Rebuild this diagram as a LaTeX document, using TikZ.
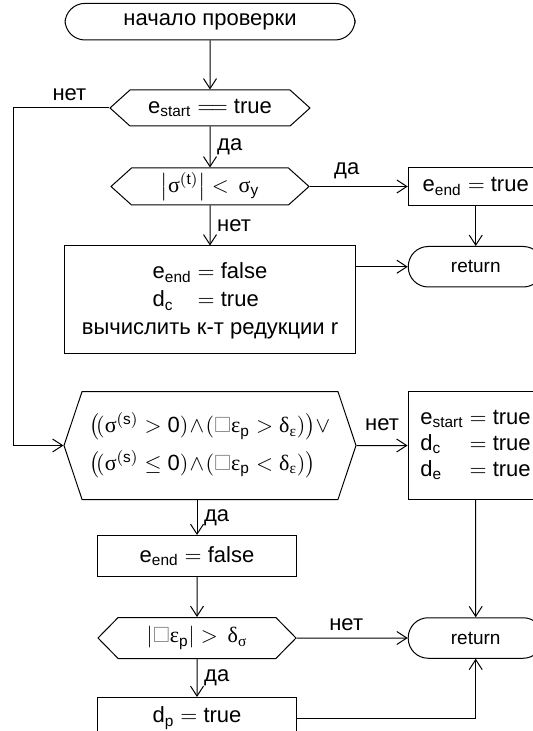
\documentclass[tikz,border=0pt]{standalone}
\usepackage{amsmath}
\usepackage{amssymb}
\usepackage{fontspec}
\setmainfont{Liberation Sans}
\newfontfamily\grk{Liberation Serif}
\usepackage{tikz}
\usetikzlibrary{positioning,shapes.symbols,arrows.meta}

\newcommand{\gr}[1]{\text{\grk #1}}
\newcommand{\bx}{{\color{gray}\square}}

\begin{document}
\begin{tikzpicture}[>={Straight Barb[length=5pt,width=6.5pt]},line width=0.5pt,
    font=\fontsize{11}{13}\selectfont,
    term/.style={rectangle,rounded corners=10pt,draw,inner sep=0pt,minimum width=145pt,minimum height=18.3pt},
    cond/.style={signal,signal to=west and east,draw,inner sep=0pt},
    proc/.style={rectangle,draw,inner sep=0pt},
    ret/.style={term,minimum width=67.5pt,minimum height=20.25pt,font=\fontsize{9.5}{11}\selectfont}]
        \clip (0,0) rectangle (266.5pt,-365.5pt);

        \node[term] (start) at (105pt,-10.85pt) {начало проверки};
        \node[cond,minimum width=100pt,minimum height=18pt,signal pointer angle=84] (dec1) [below=24.5pt of start] {$\text{e}_{\text{start}} =\!= \text{true}$};
        \node[cond,minimum width=99pt,minimum height=18.5pt,signal pointer angle=84] (dec2) [below=20.5pt of dec1] {$\left|\gr{σ}^{(\text{t})}\right| < \,\gr{σ}_{\text{y}}$};
        \node[proc,minimum width=145.75pt,minimum height=53.75pt,align=center] (box2) [below=20pt of dec2] {$\begin{array}{@{}l@{\;=\;}l@{}}\text{e}_{\text{end}} & \text{false}\\[1pt] \text{d}_{\text{c}} & \text{true}\end{array}$\\[3pt] вычислить к-т редукции r};
        \node[cond,minimum width=146pt,minimum height=54pt,signal pointer angle=143,align=left] (bighex) [below=18.5pt of box2] {$\bigl(\!(\gr{σ}^{(\text{s})} > \text{0})\!\wedge\!(\bx\gr{ε}_{\text{p}} > \gr{δ}_{\gr{ε}})\bigr) \vee$\\[4pt] $\bigl(\!(\gr{σ}^{(\text{s})} \le \text{0})\!\wedge\!(\bx\gr{ε}_{\text{p}} < \gr{δ}_{\gr{ε}})\bigr)$};
        \node[proc,minimum width=99.5pt,minimum height=20.5pt] (efalse) [below=17.5pt of bighex,xshift=-6.5pt] {$\text{e}_{\text{end}} = \text{false}$};
        \node[cond,minimum width=99pt,minimum height=20.5pt,signal pointer angle=91] (dec3) [below=20pt of efalse] {$\left|\bx\gr{ε}_{\text{p}}\right| > \,\gr{δ}_{\gr{σ}}$};
        \node[proc,minimum width=99.5pt,minimum height=20.5pt] (dp) [below=19pt of dec3] {$\text{d}_{\text{p}} = \text{true}$};

        \node[proc,minimum width=67.5pt,minimum height=19pt] (etrue) [right=49pt of dec2] {$\text{e}_{\text{end}} = \text{true}$};
        \node[ret] (ret1) [below=20pt of etrue] {return};
        \node[proc,minimum width=67.5pt,minimum height=54pt,align=left,inner xsep=3pt,anchor=west] (box3) [right=25.5pt of bighex] {$\begin{array}{@{}l@{\;=\;}l@{}}\text{e}_{\text{start}} & \text{true}\\ \text{d}_{\text{c}} & \text{true}\\ \text{d}_{\text{e}} & \text{true}\end{array}$};
        \node[ret] (ret2) [right=55.5pt of dec3] {return};
        \coordinate (lft) at (6.8pt,0);

        \draw[->] (start) -- (dec1);
        \draw[->] (dec1) -- node[right]{да} (dec2);
        \draw[->] (dec2) -- node[above,xshift=-6pt]{да} (etrue);
        \draw[->] (dec2) -- node[right]{нет} (box2);
        \draw[->] (etrue) -- (ret1);
        \draw[->] (box2.east |- ret1) -- (ret1);
        \draw[->] (dec1.west) -- node[above,xshift=4pt]{нет} (dec1.west -| lft) |- (bighex.west);
        \draw[->] (bighex) -- node[above,yshift=4pt]{нет} (box3);
        \draw[->] (bighex.south -| efalse) -- node[right]{да} (efalse);
        \draw[->] (efalse) -- (dec3);
        \draw[->] (dec3) -- node[above,xshift=-3pt]{нет} (ret2);
        \draw[->] (box3) -- (ret2);
        \draw[->] (dec3) -- node[right]{да} (dp);
        \draw[->] (dp) -| (ret2);
    \end{tikzpicture}
\end{document}
